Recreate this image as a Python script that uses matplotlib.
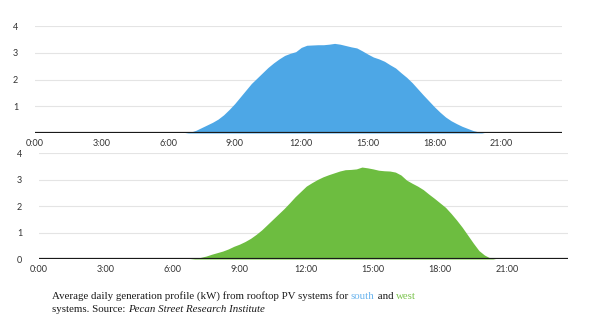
import numpy as np
import matplotlib
matplotlib.use("Agg")
import matplotlib.pyplot as plt

# Quarter-hour steps, 0:00 .. 23:45
hours = np.arange(0, 24, 0.25)

# Average generation (kW), south-facing systems
south = ([0] * 28 +
         [0.03, 0.1, 0.2, 0.3, 0.4, 0.52, 0.68, 0.88,          # 7:00 - 8:45
          1.1, 1.35, 1.6, 1.85, 2.05, 2.25, 2.45, 2.62,        # 9:00 - 10:45
          2.77, 2.9, 2.98, 3.04, 3.2, 3.28, 3.29, 3.3,         # 11:00 - 12:45
          3.3, 3.32, 3.35, 3.32, 3.27, 3.22, 3.18, 3.07,       # 13:00 - 14:45
          2.95, 2.84, 2.77, 2.68, 2.55, 2.43, 2.25, 2.08,      # 15:00 - 16:45
          1.88, 1.65, 1.42, 1.2, 0.98, 0.78, 0.6, 0.46,        # 17:00 - 18:45
          0.35, 0.25, 0.17, 0.09, 0.04] +                      # 19:00 - 20:00
         [0] * 15)

# Average generation (kW), west-facing systems
west = ([0] * 28 +
        [0.02, 0.06, 0.11, 0.18, 0.24, 0.3, 0.38, 0.48,        # 7:00 - 8:45
         0.56, 0.66, 0.78, 0.93, 1.1, 1.3, 1.5, 1.7,           # 9:00 - 10:45
         1.9, 2.12, 2.35, 2.55, 2.75, 2.88, 3.0, 3.1,          # 11:00 - 12:45
         3.18, 3.25, 3.32, 3.37, 3.38, 3.4, 3.47, 3.44,        # 13:00 - 14:45
         3.4, 3.35, 3.33, 3.32, 3.28, 3.17, 2.98, 2.86,        # 15:00 - 16:45
         2.75, 2.62, 2.45, 2.29, 2.12, 1.95, 1.72, 1.47,       # 17:00 - 18:45
         1.2, 0.9, 0.6, 0.32, 0.15, 0.04] +                    # 19:00 - 20:15
        [0] * 14)

tick_hours = [0, 3, 6, 9, 12, 15, 18, 21]
tick_labels = ["0:00", "3:00", "6:00", "9:00", "12:00", "15:00", "18:00", "21:00"]

BLUE = "#4da7e6"
GREEN = "#6dbd40"

fig = plt.figure(figsize=(6.11, 3.23), dpi=100)
ax1 = fig.add_axes([0.0573, 0.5882, 0.8625, 0.3313])
ax2 = fig.add_axes([0.0638, 0.1981, 0.8658, 0.3282])


def style(ax, yticks):
    ax.set_xlim(0, 23.75)
    ax.set_ylim(0, 4)
    for s in ax.spines.values():
        s.set_visible(False)
    ax.set_yticks(yticks)
    ax.set_xticks(tick_hours)
    ax.set_xticklabels(tick_labels)
    ax.tick_params(length=0, labelsize=6.5, labelcolor="#333333", pad=4)
    ax.tick_params(axis="y", pad=12)
    for y in [1, 2, 3, 4]:
        ax.axhline(y, color="#e4e4e4", lw=0.8, zorder=0)
    ax.axhline(0, color="#1a1a1a", lw=1.6, zorder=3)
    for lab in ax.get_xticklabels() + ax.get_yticklabels():
        lab.set_fontfamily("Lato")


ax1.fill_between(hours, south, color=BLUE, lw=0, zorder=2)
style(ax1, [1, 2, 3, 4])
ax2.fill_between(hours, west, color=GREEN, lw=0, zorder=2)
style(ax2, [0, 1, 2, 3, 4])

# caption with coloured words
cap = dict(fontsize=7.85, family="Liberation Serif", color="#1a1a1a")
t = fig.text(0.085, 0.075, "Average daily generation profile (kW) from rooftop PV systems for ", **cap)
parts = [("south", "#6ab4ee"), (" and ", "#1a1a1a"), ("west", "#7cc44e")]
prev = t
for txt, col in parts:
    kw = dict(cap)
    kw["color"] = col
    prev = ax2.annotate(txt, xy=(1, 0), xycoords=prev, va="bottom", ha="left",
                        annotation_clip=False, **kw)

t2 = fig.text(0.085, 0.035, "systems. Source: ", **cap)
ax2.annotate("Pecan Street Research Institute", xy=(1, 0), xycoords=t2, va="bottom",
             ha="left", style="italic", annotation_clip=False, **cap)

fig.savefig("out.png", dpi=100)
